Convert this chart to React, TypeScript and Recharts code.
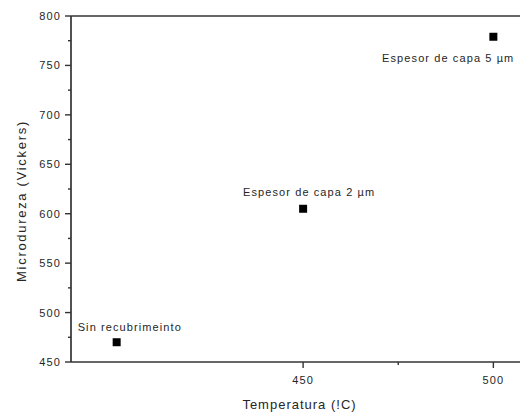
import { ScatterChart, Scatter, XAxis, YAxis, ZAxis, ReferenceLine, LabelList, Label } from 'recharts'

const temps = [401, 450, 500]
const hardness = [470, 605, 779]
const pointNames = ['Sin recubrimeinto', 'Espesor de capa 2 µm', 'Espesor de capa 5 µm']
const xTicks = [450, 475, 500]
const xMajor = [450, 500]
const yTicks = [450, 475, 500, 525, 550, 575, 600, 625, 650, 675, 700, 725, 750, 775, 800]
const yMajor = [450, 500, 550, 600, 650, 700, 750, 800]

const data = temps.map((t, i) => ({ t, v: hardness[i], name: pointNames[i] }))

const AX = '#333'
const TXT = '#262626'
const FONT = '"Liberation Sans", Arial, sans-serif'

const YTick = (p: any) => {
  const { x, y, payload } = p
  const major = yMajor.includes(payload.value)
  return (
    <g>
      <line x1={x} y1={y} x2={x - (major ? 6 : 3)} y2={y} stroke={AX} strokeWidth={1.4} />
      {major && (
        <text x={x - 10} y={y} dy={4} textAnchor="end" fontSize={11} letterSpacing={1.1} fill={TXT} fontFamily={FONT}>
          {payload.value}
        </text>
      )}
    </g>
  )
}

const XTick = (p: any) => {
  const { x, y, payload } = p
  const major = xMajor.includes(payload.value)
  return (
    <g>
      <line x1={x} y1={y} x2={x} y2={y + (major ? 6 : 3)} stroke={AX} strokeWidth={1.4} />
      {major && (
        <text x={x} y={y + 22} textAnchor="middle" fontSize={11} letterSpacing={1.1} fill={TXT} fontFamily={FONT}>
          {payload.value}
        </text>
      )}
    </g>
  )
}

// label placement per point: [anchor, dx, dy]
const place: [string, number, number][] = [
  ['start', -39, -11],
  ['middle', 6, -13],
  ['end', 21, 25],
]

const PointLabel = (p: any) => {
  const { x, y, width, height, index, value } = p
  const cx = x + (width || 0) / 2
  const cy = y + (height || 0) / 2
  const [anchor, dx, dy] = place[index]
  return (
    <text x={cx + dx} y={cy + dy} textAnchor={anchor as any} fontSize={11} letterSpacing={1.1} fill={TXT} fontFamily={FONT}>
      {value}
    </text>
  )
}

export default function App() {
  return (
    <div style={{ position: 'absolute', left: 0, top: 0, background: '#fff' }}>
      <ScatterChart width={520} height={414} margin={{ top: 16, right: 0, bottom: 0, left: 0 }}>
        <XAxis
          type="number"
          dataKey="t"
          domain={[389, 507]}
          ticks={xTicks}
          interval={0}
          height={52}
          stroke={AX}
          strokeWidth={1.7}
          tickLine={false}
          tickSize={0}
          tickMargin={0}
          tick={XTick}
        >
          <Label
            value="Temperatura (!C)"
            position="insideBottom"
            offset={5}
            dx={4}
            fontSize={13}
            letterSpacing={1}
            fill={TXT}
            fontFamily={FONT}
          />
        </XAxis>
        <YAxis
          type="number"
          dataKey="v"
          domain={[450, 800]}
          ticks={yTicks}
          interval={0}
          width={71}
          stroke={AX}
          strokeWidth={1.7}
          tickLine={false}
          tickSize={0}
          tickMargin={0}
          tick={YTick}
        >
          <Label
            content={({ viewBox }: any) => (
              <text
                transform={`translate(21, ${viewBox.y + viewBox.height / 2 + 12}) rotate(-90)`}
                textAnchor="middle"
                dominantBaseline="central"
                fontSize={13}
                letterSpacing={1.7}
                fill={TXT}
                fontFamily={FONT}
              >
                Microdureza (Vickers)
              </text>
            )}
          />
        </YAxis>
        <ZAxis range={[38, 38]} />
        <ReferenceLine y={800} stroke={AX} strokeWidth={1.7} />
        <Scatter data={data} fill="#000" shape="square" isAnimationActive={false}>
          <LabelList dataKey="name" content={PointLabel} />
        </Scatter>
      </ScatterChart>
    </div>
  )
}
